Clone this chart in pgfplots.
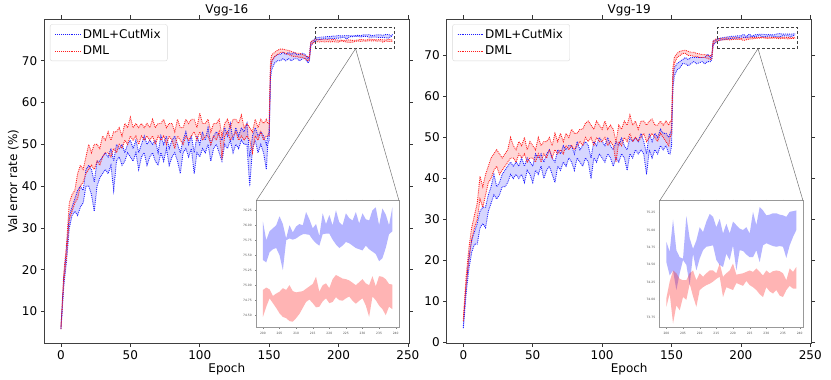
\documentclass[border=0pt]{standalone}
\usepackage{fontspec}
\setmainfont{DejaVu Sans}
\usepackage{pgfplots}
\usepackage{pgfplotstable}
\pgfplotsset{compat=1.18}
\usepgfplotslibrary{fillbetween}

\definecolor{mblue}{RGB}{30,30,255}
\definecolor{mred}{RGB}{255,30,30}
\newcommand\fs{\fontsize{12}{14}\selectfont}
\newcommand\tfs{\fontsize{3}{3.5}\selectfont}

% epoch, blue low/high (DML+CutMix), red low/high (DML)
\pgfplotstableread{
e blo bhi rlo rhi
0 5.8 6.0 5.8 6.2
2 16 18 17 19
4 22 25 23 26
6 30 33 32 36
8 33 35 34 38
10 34 37 36 39
12 33 39 37 43
14 35 40 40 45
16 36 39 41 44
18 40 44 43 47
20 40 45 44 50
22 38 44 45 48
24 34 41 44 50
26 40 46 46 50
28 42 46 45 49
30 43 47 47 52
32 44 48 48 51
34 43 47 48 53
36 45 49 47 51
38 39 46 49 53
40 46 50 48 53
42 47 49 50 54
44 45 50 49 52
46 46 48 51 55
48 48 50 50 54
50 47 51 52 56.5
52 46 49 51 54
54 48 51 52 55
56 44 48 50 54
58 47 50 52 55
60 48 52 51 54
62 45 50 52 55
64 47 51 51 54
66 48 50 52 56
68 46 51 50 54
70 45 48 52 55
72 48 52 51 55
74 46 50 52 56
76 49 52 50 54
78 45 49 52 55
80 47 51 51 55
82 48 52 49 53
84 46 50 52 56
86 43 48 51 54
88 48 51 50 54
90 49 53 52 56
92 47 50 51 55
94 49 52 52 56
96 43 48 53 56
98 48 52 51 54
100 47 50 53 57.5
102 49 53 51 55
104 48 51 52 55
106 50 54 52 56
108 46 50 50 53
110 49 52 52 55
112 50 53 51 55
114 48 52 53 56
116 46 51 47 52
118 50 54 52 55
120 49 52 53 56
122 51 55 51 54
124 48 51 52 56
126 50 54 53 56
128 49 52 51 55
130 51 54 52 57
132 50 53 51 54
134 50 55 52 55
136 40 47 51 54
138 49 52 48 53
140 51 54 52 56
142 48 52 51 54
144 50 53 53 56
146 48 52 51 55
148 44 50 52 56
149 50 52 52 55
150 51 53 52 55
151 66 68 68 70
152 68 70 70 71.5
154 69.5 71 71 72
156 70 71.5 71.5 72.5
158 70 71.5 72 72.8
160 70.5 72 72 72.8
162 70 71.5 71.8 72.6
164 70.5 72 71.5 72.5
166 70 71.5 71.2 72.2
168 70.5 72 71 72
170 70.5 71.5 71 71.8
172 70 71.5 70.8 71.8
174 70.5 71.8 70.8 71.5
176 70.5 71.5 70.5 71.2
178 69.5 70.5 70 71
179 70 71 70.3 71
180 73.5 74.5 73.8 74.5
182 74.5 75 74.3 74.9
184 75.0 75.5 74.6 75.1
186 75.1 75.6 74.5 75.0
188 75.2 75.7 74.6 75.1
190 75.3 75.7 74.5 75.0
192 75.2 75.8 74.6 75.1
194 75.4 75.8 74.5 75.0
196 75.3 75.9 74.6 75.1
198 75.4 75.9 74.5 75.0
200 75.42 76.06 74.47 74.92
202 75.55 75.90 74.78 74.93
204 75.62 76.00 74.62 74.86
206 75.25 76.02 74.47 74.95
208 75.78 76.00 74.40 75.00
210 75.78 75.98 74.45 74.88
212 75.85 76.00 74.62 74.90
214 75.84 76.10 74.76 74.98
216 75.70 76.02 74.63 75.14
218 75.85 76.20 74.73 75.00
220 75.86 76.17 74.70 74.95
222 75.68 76.25 74.80 75.17
224 75.66 76.00 74.74 75.11
226 75.70 76.12 74.81 75.08
228 75.62 76.22 74.69 75.00
230 75.58 76.20 74.78 75.10
232 75.60 76.08 74.47 75.00
234 75.52 76.30 74.75 74.98
236 75.45 76.28 74.60 75.14
238 75.85 76.00 74.64 75.02
239 75.90 76.30 74.60 75.01
}\vggA

\pgfplotstableread{
e blo bhi rlo rhi
0 3.5 4.0 5.2 5.8
2 12 14 14 16
4 18 21 20 23
6 22 25 25 28
8 24 27 28 31
10 24 29 30 34
12 28 32 35 40.5
14 29 33 33 38
16 28 33 36 41
18 32 36 39 43
20 34 38 40 45
22 36 41 42 46
24 35 38 43 47
26 36 39 41 46
28 38 41 42 45
30 38 42 43 46
32 39 43 44 47
34 41 44 45 50
36 40 43 45 48
38 41 44 44 47
40 40 43 46 49
42 41 45 45 48
44 39 43 46 50
46 42 45 44 47
48 41 44 45 49
50 39 43 45 48
52 42 46 44 47
54 41 45 46 50
56 43 46 44 48
58 40 44 46 49
60 42 46 45 49
62 43 47 47 50
64 41 45 45 48
66 39 44 47 51
68 43 47 46 49
70 42 46 47 51
72 44 48 46 49
74 43 47 48 51
76 45 48 47 50
78 44 48 48 52
80 42 46 47 51
82 45 49 48 51
84 44 47 49 52
86 43 48 48 52
88 45 49 50 53.5
90 44 48 49 54
92 40 45 50 53
94 45 49 48 52
96 44 48 50 54
98 46 50 49 53
100 45 49 49 52
102 44 48 50 54
104 46 50 48 52
106 45 48 49 53
108 43 47 48 52
110 45 49 44 49
112 44 48 49 53
114 46 50 48 52
116 45 48 50 54
118 42 47 49 53
120 46 50 51 55.5
122 45 49 49 53
124 47 50 50 54
126 46 49 49 52
128 47 51 50 54
130 46 49 51 54
132 41 46 49 53
134 47 51 50 54
136 45 49 51 54.5
138 47 51 50 53
140 46 50 49 53
142 48 52 51 54
144 47 51 50 53
146 48 51 49 54
148 46 50 48 53
149 46 51 50 54
150 48 52 51 54
151 62 65 64 67
152 65 67 68 69.5
154 66.5 68 69.5 70.5
156 67 68.5 70 71
158 68 69 70.5 71.2
160 68 69.5 70.5 71.3
162 67.5 69 70 71
164 68 69.5 70 70.8
166 68.5 69.5 69.8 70.8
168 68 69.5 69.8 70.5
170 68.2 69.5 69.5 70.4
172 68.5 69.5 69.5 70.2
174 68 69.5 69.5 70.2
176 68.5 70.3 69.3 70
178 68.5 69.5 69 70
179 69 70 69.2 70
180 72.5 73.5 72.8 73.6
182 73.2 73.8 73.5 74
184 73.6 74.1 73.7 74.1
186 73.8 74.3 73.8 74.2
188 73.9 74.4 73.8 74.2
190 74.0 74.5 73.9 74.3
192 74.1 74.6 73.8 74.2
194 74.2 74.7 73.9 74.3
196 74.2 74.7 73.9 74.3
198 74.3 74.8 73.9 74.3
200 74.54 74.83 73.90 74.02
202 74.42 75.15 73.66 74.42
204 74.38 74.61 73.85 74.30
206 74.50 75.20 74.00 74.28
208 74.66 74.73 74.05 74.42
210 74.59 75.04 74.14 74.38
212 74.76 75.12 74.21 74.38
214 74.78 75.19 74.26 74.42
216 74.50 75.16 74.33 74.52
218 74.66 75.09 74.18 74.38
220 74.78 75.12 74.14 74.52
222 74.71 75.02 74.22 74.37
224 74.65 75.04 74.27 74.40
226 74.61 75.26 74.18 74.40
228 74.54 75.33 74.08 74.40
230 74.81 75.21 74.18 74.42
232 74.77 75.24 74.09 74.41
234 74.77 75.22 74.06 74.41
236 74.60 75.19 74.14 74.28
238 74.90 75.27 74.16 74.40
239 75.00 75.28 74.16 74.47
}\vggB

% zoomed bands, epochs 200-239
\pgfplotstableread{
e blo bhi rlo rhi
200 75.42 76.06 74.47 74.92
201 75.38 75.75 74.64 74.96
202 75.55 75.90 74.78 74.93
203 75.60 75.95 74.70 74.82
204 75.62 76.00 74.62 74.86
205 75.50 76.15 74.53 74.89
206 75.25 76.02 74.47 74.95
207 75.75 75.78 74.45 74.92
208 75.78 76.00 74.40 75.00
209 75.76 75.88 74.39 74.90
210 75.78 75.98 74.45 74.88
211 75.82 76.02 74.52 74.89
212 75.85 76.00 74.62 74.90
213 75.85 76.22 74.72 74.94
214 75.84 76.10 74.76 74.98
215 75.76 75.95 74.70 75.02
216 75.70 76.02 74.63 75.14
217 75.66 75.82 74.64 74.89
218 75.85 76.20 74.73 75.00
219 75.86 76.02 74.78 75.03
220 75.86 76.17 74.70 74.95
221 75.76 76.00 74.72 75.10
222 75.68 76.25 74.80 75.17
223 75.62 76.05 74.75 75.14
224 75.66 76.00 74.74 75.11
225 75.72 76.20 74.78 75.10
226 75.70 76.12 74.81 75.08
227 75.66 76.08 74.74 75.04
228 75.62 76.22 74.69 75.00
229 75.60 76.03 74.74 75.05
230 75.58 76.20 74.78 75.10
231 75.66 76.10 74.66 75.03
232 75.60 76.08 74.47 75.00
233 75.56 76.25 74.81 75.15
234 75.52 76.30 74.75 74.98
235 75.40 76.00 74.66 75.15
236 75.45 76.28 74.60 75.14
237 75.62 76.18 74.50 75.10
238 75.85 76.00 74.64 75.02
239 75.90 76.30 74.60 75.01
}\zoomA

\pgfplotstableread{
e blo bhi rlo rhi
200 74.54 74.83 73.90 74.02
201 74.35 74.69 74.09 74.26
202 74.42 75.15 73.66 74.42
203 74.14 74.71 73.92 74.38
204 74.38 74.61 73.85 74.30
205 74.57 74.59 74.04 74.28
206 74.50 75.20 74.00 74.28
207 74.21 74.88 74.23 74.38
208 74.66 74.73 74.05 74.42
209 74.42 74.85 73.90 74.28
210 74.59 75.04 74.14 74.38
211 74.71 74.97 74.18 74.33
212 74.76 75.12 74.21 74.38
213 74.77 75.23 74.23 74.42
214 74.78 75.19 74.26 74.42
215 74.57 75.04 74.30 74.38
216 74.50 75.16 74.33 74.52
217 74.47 74.95 74.04 74.33
218 74.66 75.09 74.18 74.38
219 74.57 74.95 74.16 74.42
220 74.78 75.12 74.14 74.52
221 74.42 75.07 74.24 74.36
222 74.71 75.02 74.22 74.37
223 74.70 75.00 74.20 74.38
224 74.65 75.04 74.27 74.40
225 74.61 74.95 74.21 74.42
226 74.61 75.26 74.18 74.40
227 74.71 75.07 74.14 74.45
228 74.54 75.33 74.08 74.40
229 74.78 75.28 74.04 74.35
230 74.81 75.21 74.18 74.42
231 74.79 75.22 74.12 74.38
232 74.77 75.24 74.09 74.41
233 74.76 75.24 74.14 74.42
234 74.77 75.22 74.06 74.41
235 74.76 75.21 74.04 74.38
236 74.60 75.19 74.14 74.28
237 74.78 75.26 74.20 74.45
238 74.90 75.27 74.16 74.40
239 75.00 75.28 74.16 74.47
}\zoomB

\tikzset{
  bline/.style={mblue, densely dotted, line width=0.9pt},
  rline/.style={mred, densely dotted, line width=0.9pt},
}

\pgfplotsset{
  mainax/.style={
    scale only axis, width=365pt, height=324.3pt,
    xmin=-12, xmax=251, xtick={0,50,...,250},
    tick align=outside, major tick length=3.5pt,
    tick style={black!80, line width=0.6pt},
    axis line style={black!75, line width=0.7pt},
    tick label style={font=\fs}, label style={font=\fs},
    xlabel style={at={(axis description cs:0.5,-0.079)}, anchor=center},
    ylabel style={at={(axis description cs:-0.085,0.5)}, anchor=center},
    /pgf/number format/assume math mode=true,
    xlabel={Epoch},
    legend cell align=left,
    legend image code/.code={\draw[##1] (0pt,0pt) -- (24pt,0pt); \path (0pt,0pt) -- (25pt,0pt);},
    legend style={at={(0.0156,0.9837)}, anchor=north west,
      draw=black!15, rounded corners=2pt, fill=white, font=\fs,
      inner xsep=4.7pt, inner ysep=2.8pt, row sep=2pt},
  },
  inax/.style={
    scale only axis, axis background/.style={fill=white},
    xmin=198, xmax=241, xtick={200,205,...,240},
    tick align=outside, major tick length=1pt,
    tick style={black!50, line width=0.3pt},
    axis line style={black!40, line width=0.6pt},
    tick label style={font=\tfs, text=black!70},
    /pgf/number format/assume math mode=true,
    yticklabel style={/pgf/number format/.cd, fixed, fixed zerofill, precision=2},
    xticklabel style={/pgf/number format/.cd, fixed, precision=0},
  },
}

\begin{document}
\begin{tikzpicture}

% ---- Vgg-16 ----
\begin{axis}[mainax, name=mainA, at={(44.3pt,36.7pt)}, anchor=south west,
  ymin=2.4, ymax=80, ytick={10,20,...,70},
  ylabel={Val error rate (\%)}]
  \addplot[bline, name path=bhA] table[x=e, y=bhi] {\vggA};
  \addplot[rline, name path=rhA] table[x=e, y=rhi] {\vggA};
  \addplot[bline, name path=blA, forget plot] table[x=e, y=blo] {\vggA};
  \addplot[rline, name path=rlA, forget plot] table[x=e, y=rlo] {\vggA};
  \addplot[fill=mblue, fill opacity=0.18, draw=none, forget plot] fill between[of=bhA and blA];
  \addplot[fill=mred, fill opacity=0.18, draw=none, forget plot] fill between[of=rhA and rlA];
  \legend{DML+CutMix, DML}
  \draw[black!75, densely dashed, line width=0.5pt] (axis cs:183.1,72.9) rectangle (axis cs:240.5,78.0);
  \coordinate (zA) at (axis cs:212.3,72.9);
\end{axis}
\node[font=\fs, anchor=center] at ([yshift=8.3pt]mainA.north) {Vgg-16};

\begin{axis}[inax, name=insA, at={(256.3pt,52.3pt)}, anchor=south west,
  width=142.7pt, height=127pt, ymin=74.29, ymax=76.41,
  ytick={74.50,74.75,...,76.25}]
  \addplot[draw=none, name path=a1] table[x=e, y=bhi] {\zoomA};
  \addplot[draw=none, name path=a2] table[x=e, y=blo] {\zoomA};
  \addplot[draw=none, name path=a3] table[x=e, y=rhi] {\zoomA};
  \addplot[draw=none, name path=a4] table[x=e, y=rlo] {\zoomA};
  \addplot[fill=mblue, fill opacity=0.33, draw=none] fill between[of=a1 and a2];
  \addplot[fill=mred, fill opacity=0.33, draw=none] fill between[of=a3 and a4];
\end{axis}
\draw[black!55, line width=0.5pt] (zA) -- (insA.north west);
\draw[black!55, line width=0.5pt] (zA) -- (insA.north east);

% ---- Vgg-19 ----
\begin{axis}[mainax, name=mainB, at={(446.7pt,36.7pt)}, anchor=south west,
  ymin=-0.2, ymax=78.9, ytick={0,10,...,70}]
  \addplot[bline, name path=bhB] table[x=e, y=bhi] {\vggB};
  \addplot[rline, name path=rhB] table[x=e, y=rhi] {\vggB};
  \addplot[bline, name path=blB, forget plot] table[x=e, y=blo] {\vggB};
  \addplot[rline, name path=rlB, forget plot] table[x=e, y=rlo] {\vggB};
  \addplot[fill=mblue, fill opacity=0.18, draw=none, forget plot] fill between[of=bhB and blB];
  \addplot[fill=mred, fill opacity=0.18, draw=none, forget plot] fill between[of=rhB and rlB];
  \legend{DML+CutMix, DML}
  \draw[black!75, densely dashed, line width=0.5pt] (axis cs:183.1,71.67) rectangle (axis cs:240.6,76.9);
  \coordinate (zB) at (axis cs:212.3,71.67);
\end{axis}
\node[font=\fs, anchor=center] at ([yshift=8.3pt]mainB.north) {Vgg-19};

\begin{axis}[inax, name=insB, at={(659.7pt,52.3pt)}, anchor=south west,
  width=143.3pt, height=127pt, ymin=73.60, ymax=75.42,
  ytick={73.75,74.00,...,75.25}]
  \addplot[draw=none, name path=b1] table[x=e, y=bhi] {\zoomB};
  \addplot[draw=none, name path=b2] table[x=e, y=blo] {\zoomB};
  \addplot[draw=none, name path=b3] table[x=e, y=rhi] {\zoomB};
  \addplot[draw=none, name path=b4] table[x=e, y=rlo] {\zoomB};
  \addplot[fill=mblue, fill opacity=0.33, draw=none] fill between[of=b1 and b2];
  \addplot[fill=mred, fill opacity=0.33, draw=none] fill between[of=b3 and b4];
\end{axis}
\draw[black!55, line width=0.5pt] (zB) -- (insB.north west);
\draw[black!55, line width=0.5pt] (zB) -- (insB.north east);

\pgfresetboundingbox
\useasboundingbox (0,0) rectangle (831pt,380pt);
\end{tikzpicture}
\end{document}
